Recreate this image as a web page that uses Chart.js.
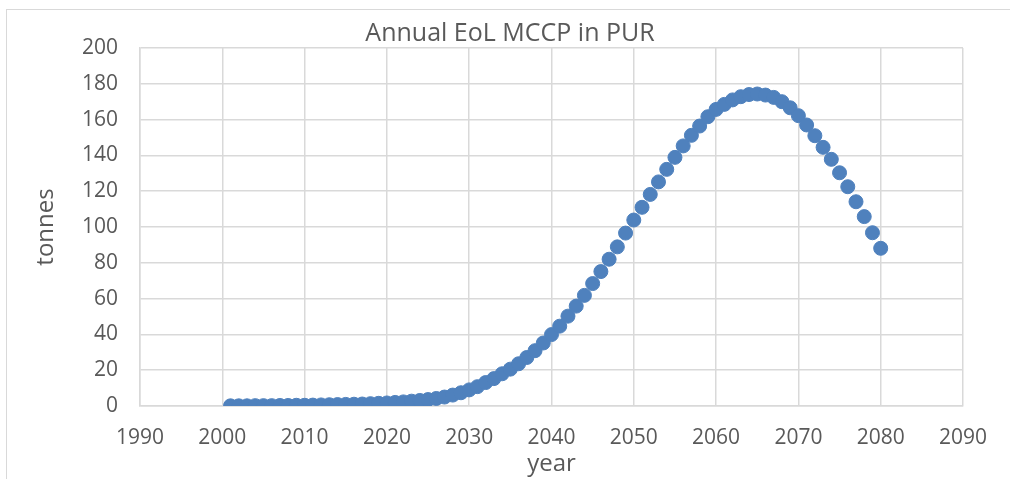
<!DOCTYPE html>
<html>
<head>
<meta charset="utf-8">
<script src="https://cdn.jsdelivr.net/npm/chart.js@4/dist/chart.umd.min.js"></script>
<style>
    html, body { margin: 0; padding: 0; background: #fff; overflow: hidden; }
    #wrap { position: relative; width: 1010px; height: 479px; }
    #frame { position: absolute; left: 6px; top: 9px; width: 1100px; height: 600px; border: 1px solid #d9d9d9; }
    #chart { position: absolute; left: 0; top: 0; }
</style>
</head>
<body>
<div id="wrap">
    <div id="frame"></div>
    <canvas id="chart" width="1010" height="479"></canvas>
</div>
<script>
// annual end-of-life MCCP in PUR, tonnes per year
const years = [
    2001, 2002, 2003, 2004, 2005, 2006, 2007, 2008, 2009, 2010,
    2011, 2012, 2013, 2014, 2015, 2016, 2017, 2018, 2019, 2020,
    2021, 2022, 2023, 2024, 2025, 2026, 2027, 2028, 2029, 2030,
    2031, 2032, 2033, 2034, 2035, 2036, 2037, 2038, 2039, 2040,
    2041, 2042, 2043, 2044, 2045, 2046, 2047, 2048, 2049, 2050,
    2051, 2052, 2053, 2054, 2055, 2056, 2057, 2058, 2059, 2060,
    2061, 2062, 2063, 2064, 2065, 2066, 2067, 2068, 2069, 2070,
    2071, 2072, 2073, 2074, 2075, 2076, 2077, 2078, 2079, 2080
];
const tonnes = [
    0.1, 0.1, 0.1, 0.2, 0.2, 0.2, 0.3, 0.3, 0.4, 0.4,
    0.5, 0.6, 0.7, 0.8, 0.9, 1.0, 1.1, 1.3, 1.5, 1.7,
    2.0, 2.3, 2.7, 3.1, 3.6, 4.2, 5.0, 6.1, 7.4, 9.0,
    10.8, 13.1, 15.3, 18.0, 20.6, 23.6, 27.1, 30.9, 35.2, 39.9,
    44.6, 50.2, 55.8, 61.8, 68.4, 75.1, 82.0, 88.9, 96.6, 103.9,
    111.0, 118.2, 125.2, 132.2, 138.9, 145.3, 151.2, 156.4, 161.6, 165.7,
    168.5, 171.0, 172.8, 174.0, 174.3, 173.7, 172.4, 170.0, 166.6, 162.2,
    157.0, 151.0, 144.5, 137.8, 130.3, 122.5, 114.1, 105.8, 96.8, 88.1
];
const xRange = [1990, 2090];
const yRange = [0, 200];

window.onload = () => {
    const chartEl = document.getElementById('chart');
    const textColor = '#595959';
    const gridColor = '#d9d9d9';
    const fontFamily = "'Open Sans', 'Liberation Sans', sans-serif";

    const data = {
        datasets: [{
            label: 'Annual EoL MCCP in PUR',
            data: years.map((y, i) => ({ x: y, y: tonnes[i] })),
            backgroundColor: '#4f81bd',
            borderColor: '#4f81bd',
            borderWidth: 1,
            pointRadius: 7,
            pointHoverRadius: 7,
            showLine: false
        }]
    };

    const config = {
        type: 'scatter',
        data: data,
        options: {
            responsive: false,
            animation: false,
            events: [],
            layout: {
                padding: { top: 0, right: 0, bottom: 0, left: 10 }
            },
            scales: {
                x: {
                    type: 'linear',
                    min: xRange[0],
                    max: xRange[1],
                    afterFit: (scale) => { scale.height = 73; },
                    ticks: {
                        stepSize: 10,
                        padding: 19,
                        color: textColor,
                        font: { family: fontFamily, size: 21 },
                        callback: (v) => String(v)
                    },
                    grid: { color: gridColor, lineWidth: 1.5, drawTicks: false },
                    border: { color: gridColor, width: 1.5 },
                    title: {
                        display: true,
                        text: 'year',
                        color: textColor,
                        font: { family: fontFamily, size: 24 },
                        padding: { top: 0, bottom: 0 }
                    }
                },
                y: {
                    min: yRange[0],
                    max: yRange[1],
                    afterFit: (scale) => { scale.width = 130; },
                    ticks: {
                        stepSize: 20,
                        padding: 22,
                        color: textColor,
                        font: { family: fontFamily, size: 21 }
                    },
                    grid: { color: gridColor, lineWidth: 1.5, drawTicks: false },
                    border: { color: gridColor, width: 1.5 },
                    title: {
                        display: true,
                        text: 'tonnes',
                        color: textColor,
                        font: { family: fontFamily, size: 24 },
                        padding: { top: 22, bottom: 0 }
                    }
                },
                // empty axis on the right, only reserves the margin
                yRight: {
                    position: 'right',
                    min: yRange[0],
                    max: yRange[1],
                    afterFit: (scale) => { scale.width = 47; },
                    ticks: { display: false },
                    grid: { display: false },
                    border: { display: false }
                }
            },
            plugins: {
                legend: { display: false },
                tooltip: { enabled: false },
                title: {
                    display: true,
                    text: 'Annual EoL MCCP in PUR',
                    color: textColor,
                    padding: { top: 20.5, bottom: 0 },
                    font: { family: fontFamily, size: 25, weight: 'normal', lineHeight: 1.1 }
                }
            }
        }
    };
    new Chart(chartEl, config);
};
</script>
</body>
</html>
